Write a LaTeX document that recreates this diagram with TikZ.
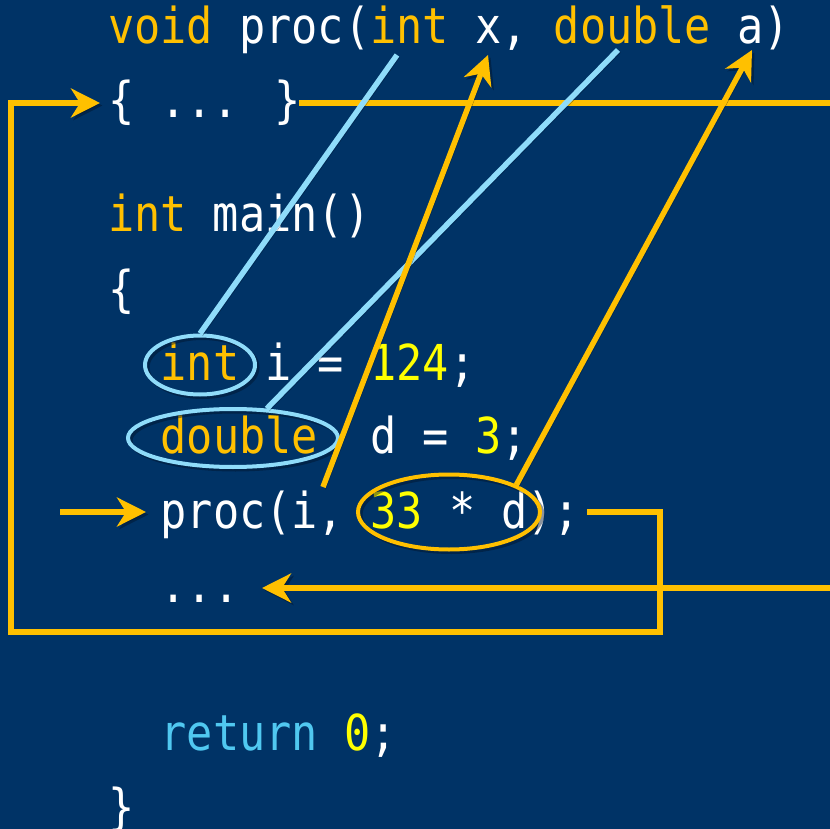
\documentclass[tikz,border=0pt]{standalone}
\usepackage{fontspec}
\newfontfamily\codefont[FakeStretch=0.88]{DejaVu Sans Mono}
\usetikzlibrary{arrows.meta,shapes.geometric}

\definecolor{bg}{RGB}{0,51,102}
\definecolor{kwcol}{RGB}{255,192,0}
\definecolor{numcol}{RGB}{255,255,0}
\definecolor{txtcol}{RGB}{255,255,255}
\definecolor{retcol}{RGB}{80,200,240}
\definecolor{linkcol}{RGB}{143,220,250}
\definecolor{flowcol}{RGB}{255,192,0}
\definecolor{shadecol}{RGB}{0,18,40}

% syntax colouring
\newcommand\kw[1]{{\color{kwcol}#1}}
\newcommand\nm[1]{{\color{numcol}#1}}
\newcommand\rt[1]{{\color{retcol}#1}}

\tikzset{
  code/.style={anchor=base west, inner sep=0pt, outer sep=0pt, text=txtcol,
    font=\codefont\fontsize{49.5}{58}\selectfont},
  shade/.style={preaction={draw=shadecol, opacity=0.45, transform canvas={shift={(2.5pt,-2.5pt)}}}},
  flow/.style={draw=flowcol, line width=5.5pt, line join=miter, shade},
  link/.style={draw=linkcol, line width=5.5pt, shade},
  tip/.style={-{Stealth[length=29pt,width=29pt,inset=9pt]}},
  ring/.style={ellipse, line width=4pt, inner sep=0pt, shade},
}

\begin{document}
\begin{tikzpicture}[x=1pt,y=-1pt]
  \fill[bg] (0,0) rectangle (830,829);
  \useasboundingbox (0,0) rectangle (830,829);

  % source text
  \node[code] (L1) at (108,44) {\kw{void} proc(\kw{int} x, \kw{double} a)};
  \node[code] (L2) at (108,118) {\{ ... \}};
  \node[code] (L3) at (108,232) {\kw{int} main()};
  \node[code] (L4) at (108,306) {\{};
  \node[code] (L5) at (160.6,380) {\kw{int} i = \nm{124};};
  \node[code] (L6) at (160.6,453) {\kw{double}\ \ d = \nm{3};};
  \node[code] (L7) at (160.6,528) {proc(i, \nm{33} * d);};
  \node[code] (L8) at (160.6,602) {...};
  \node[code] (L9) at (160.6,750) {\rt{return} \nm{0};};
  \node[code] (L10) at (108,824) {\}};

  % marked arguments
  \node[ring, draw=linkcol, minimum width=110pt, minimum height=59pt] (eint) at (200,365) {};
  \node[ring, draw=linkcol, minimum width=210pt, minimum height=58pt] (edouble) at (233,438) {};
  \node[ring, draw=flowcol, minimum width=182pt, minimum height=75pt] (earg) at (449,512) {};

  % anchor points of the connectors
  \coordinate (hdrInt) at (397,55);
  \coordinate (hdrX) at (488,55);
  \coordinate (hdrDouble) at (618,50);
  \coordinate (hdrA) at (752,50);
  \coordinate (argI) at (323,487);
  \coordinate (bodyOut) at (299,103);
  \coordinate (bodyOutEnd) at (830,103);
  \coordinate (bodyIn) at (100,103);
  \coordinate (callOut) at (587,512);
  \coordinate (callTurn) at (660,632);
  \coordinate (callLeft) at (11,632);
  \coordinate (retIn) at (830,588);
  \coordinate (retTip) at (262,588);
  \coordinate (stepIn) at (60,512);
  \coordinate (stepTip) at (146,512);

  % control flow
  \draw[flow] (bodyOut) -- (bodyOutEnd);
  \draw[flow, tip] (callOut) -| (callTurn) -- (callLeft) |- (bodyIn);
  \draw[flow, tip] (retIn) -- (retTip);
  \draw[flow, tip] (stepIn) -- (stepTip);

  % parameter types
  \draw[link] (hdrInt) -- (eint.north);
  \draw[link] (hdrDouble) -- (edouble.41);

  % argument values
  \draw[flow, tip] (argI) -- (hdrX);
  \draw[flow, tip] (earg.22) -- (hdrA);
\end{tikzpicture}
\end{document}
